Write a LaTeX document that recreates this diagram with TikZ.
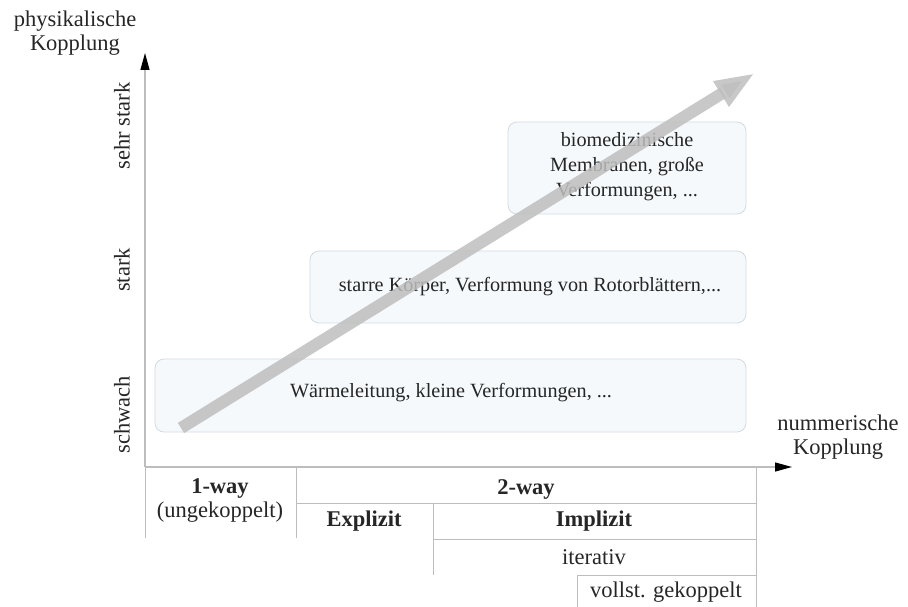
\documentclass[tikz,border=0pt]{standalone}
\usepackage{fontspec}
\setmainfont{Liberation Serif}
\usetikzlibrary{calc}
\usetikzlibrary{arrows.meta}
\definecolor{boxbg}{HTML}{F5F9FC}
\definecolor{boxline}{HTML}{D3DBE2}
\definecolor{axisline}{HTML}{BDBDBD}
\definecolor{trend}{HTML}{BEBEBE}

\begin{document}
\begin{tikzpicture}[x=1pt,y=-1pt,
every node/.style = {font=\fontsize{22.5}{24}\selectfont, inner sep=0pt, text=black!85},
regime/.style = {draw=boxline, line width=0.8pt, fill=boxbg, rounded corners=9pt},
boxtext/.style = {font=\fontsize{20.2}{25}\selectfont, align=center},
tabline/.style = {draw=axisline, line width=1pt},
axis/.style = {draw=axisline, line width=1.2pt, -{Triangle[length=17pt,width=9pt,color=black]}},
level/.style = {rotate=90}
]
\useasboundingbox (0,0) rectangle (908,607);

\coordinate (o) at (145,467);
\coordinate (ytip) at (145,53);
\coordinate (xtip) at (792,467);

% regime boxes
\draw [regime] (155,359) rectangle (746,432);
\draw [regime] (310,251) rectangle (746,323);
\draw [regime] (508,122) rectangle (746,214);
\node (weak) [boxtext] at (451,393) {W\"armeleitung, kleine Verformungen, ...};
\node (strong) [boxtext] at (530,287) {starre K\"orper, Verformung von Rotorbl\"attern,...};
\node (vstrong) [boxtext] at (627,167) {biomedizinische\\Membranen, gro\ss e\\Verformungen, ...};

% trend arrow
\coordinate (tstart) at (181,428);
\coordinate (tend) at (755,73);
\draw [trend, opacity=0.85, line width=12pt, -{Triangle[length=40pt,width=27pt]}] (tstart) -- (tend);

% axes
\draw [tabline] (o) -- ($ (o) + (0,71) $);
\draw [axis] (o) -- (ytip);
\draw [axis] (o) -- (xtip);
\node (ylabel) [align=center] at (75,33) {physikalische\\Kopplung};
\node (xlabel) [align=center] at (838,437) {nummerische\\Kopplung};
\node (l1) [level] at (122,415) {schwach};
\node (l2) [level] at (122,270) {stark};
\node (l3) [level] at (122,126) {sehr stark};

% coupling table
\draw [tabline] (296,467) -- (296,538);
\draw [tabline] (296,503) -- (756,503);
\draw [tabline] (433,503) -- (433,575);
\draw [tabline] (433,539) -- (756,539);
\draw [tabline] (577,575) -- (577,607);
\draw [tabline] (577,575) -- (756,575);
\draw [tabline] (756,467) -- (756,607);
\node (oneway) [align=center] at (220,500) {\textbf{1-way}\\(ungekoppelt)};
\node (twoway) at (526,489) {\textbf{2-way}};
\node (expl) at (364,521) {\textbf{Explizit}};
\node (impl) at (594,521) {\textbf{Implizit}};
\node (iter) at (594,557) {iterativ};
\node (full) at (666,592) {vollst. gekoppelt};
\end{tikzpicture}
\end{document}
